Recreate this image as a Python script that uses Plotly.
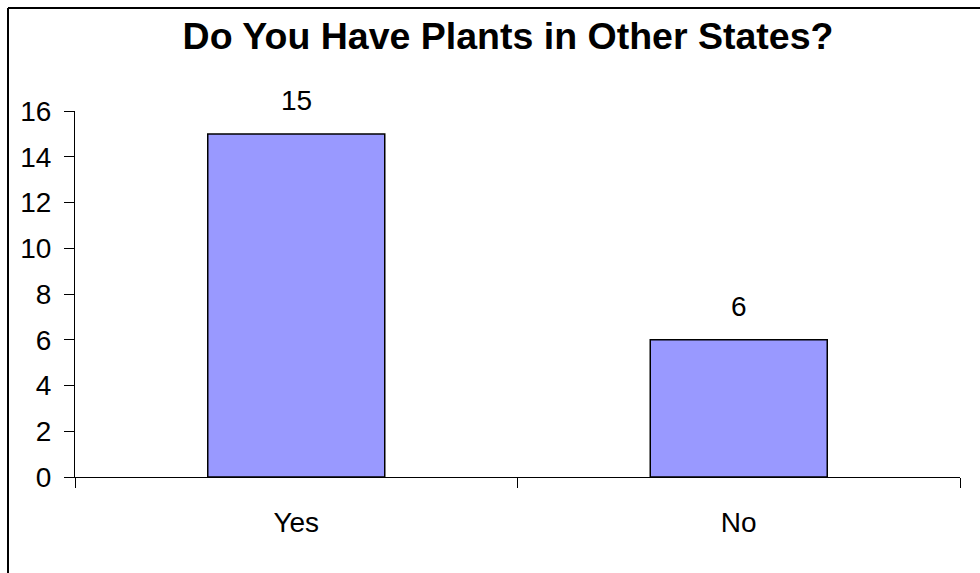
import plotly.graph_objects as go

categories = ["Yes", "No"]
values = [15, 6]
y_ticks = [0, 2, 4, 6, 8, 10, 12, 14, 16]
title_text = "Do You Have Plants in Other States?"

W, H = 980, 573
L, R, T, B = 75, 20, 111, 96
pw, ph = W - L - R, H - T - B

def px_x(x):
    return (x - L) / pw

def px_y(y):
    return (H - B - y) / ph

fig = go.Figure()
fig.add_trace(go.Bar(
    x=categories, y=values, width=0.4,
    marker=dict(color="#9999FF", line=dict(color="black", width=1.5)),
    hoverinfo="skip",
))

for c, v in zip(categories, values):
    fig.add_annotation(x=c, y=v, text=str(v), showarrow=False,
                       yanchor="bottom", yshift=16,
                       font=dict(family="Arial, Liberation Sans", size=28, color="black"))

# outer chart border (top and left visible)
fig.add_shape(type="line", xref="paper", yref="paper",
              x0=px_x(8), y0=px_y(8), x1=px_x(1000), y1=px_y(8),
              line=dict(color="black", width=2))
fig.add_shape(type="line", xref="paper", yref="paper",
              x0=px_x(8), y0=px_y(8), x1=px_x(8), y1=px_y(600),
              line=dict(color="black", width=2))

fig.update_layout(
    width=W, height=H,
    margin=dict(l=L, r=R, t=T, b=B),
    paper_bgcolor="white", plot_bgcolor="white",
    showlegend=False,
    title=dict(text="<b>" + title_text + "</b>", x=508 / W, xanchor="center",
               y=1 - 36 / H, yanchor="middle", yref="container",
               font=dict(family="Arial, Liberation Sans", size=37.5, color="black")),
    font=dict(family="Arial, Liberation Sans", color="black"),
    bargap=0.6,
)
fig.update_xaxes(
    range=[-0.5, 1.5], showline=True, linecolor="black", linewidth=1,
    ticks="outside", tickson="boundaries", ticklen=10, tickcolor="black",
    showgrid=False, tickfont=dict(size=28), ticklabelstandoff=20,
)
fig.update_yaxes(
    range=[0, 16], tickvals=y_ticks, showline=True, linecolor="black", linewidth=1,
    ticks="outside", ticklen=10, tickcolor="black", showgrid=False, zeroline=False,
    tickfont=dict(size=28), ticklabelstandoff=7,
)

fig.write_html("out.html")
